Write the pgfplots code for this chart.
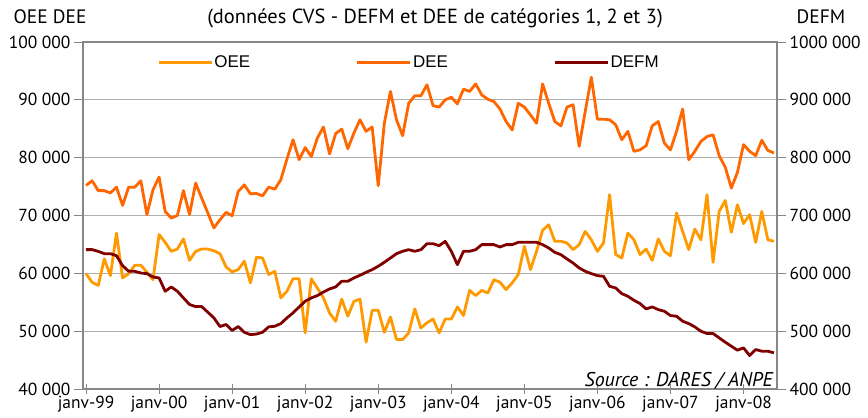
\documentclass[border=0pt]{standalone}
\usepackage{pgfplots}
\pgfplotsset{compat=1.18}
\usepackage{pgfplotstable}
\usepackage{fontspec}
\setmainfont{PT Sans}
\newfontfamily\legfont{Liberation Sans}

\definecolor{oee}{HTML}{FF9900}
\definecolor{dee}{HTML}{FF6600}
\definecolor{defm}{HTML}{800000}
\definecolor{axgray}{HTML}{868686}
\definecolor{gridgray}{HTML}{B0B0B0}

\pgfplotstableread{
i oee dee defm
0 59950 75200 641000
1 58450 76000 641000
2 57900 74300 638000
3 62500 74300 634000
4 59600 73900 634000
5 66950 74900 630500
6 59200 71750 613300
7 59950 74900 603500
8 61400 74900 603500
9 61400 76000 600600
10 60200 70150 599500
11 58900 74450 593700
12 66700 76650 592000
13 65350 70700 569000
14 63800 69550 576500
15 64200 70000 569000
16 65950 74300 557500
17 62250 70150 546100
18 63800 75600 542500
19 64200 73000 542500
20 64200 70450 532800
21 63900 67850 523000
22 63400 69250 508000
23 61100 70550 511500
24 60250 69950 501300
25 60650 74150 508000
26 62100 75300 498000
27 58350 73750 494000
28 62800 73800 495000
29 62650 73400 498200
30 59800 74900 507400
31 60350 74550 508500
32 55750 76200 513100
33 56900 79750 522900
34 59050 83100 531600
35 59050 79650 541900
36 49700 81750 551700
37 59050 80200 557500
38 57450 83400 561500
39 55750 85300 567800
40 53150 80650 573000
41 51700 84150 576500
42 55550 84950 586300
43 52600 81550 586300
44 55150 84250 592000
45 55550 86550 596600
46 48100 84550 601800
47 53600 85300 606400
48 53600 75150 612200
49 49800 85950 619100
50 52450 91450 626500
51 48550 86550 634000
52 48550 83800 638100
53 49700 89400 640900
54 53850 90700 638100
55 50550 90700 640900
56 51450 92600 651300
57 52100 89000 651300
58 49700 88750 647800
59 52100 90000 655300
60 52100 90450 638100
61 54200 89300 615000
62 52700 91850 638100
63 57050 91450 638100
64 56150 92750 640900
65 57050 90850 649600
66 56600 90100 649600
67 58900 89700 649600
68 58450 88400 645500
69 57200 86250 649600
70 58350 84800 649600
71 59800 89400 653600
72 64650 88750 653600
73 60650 87400 653600
74 63800 85950 653600
75 67450 92750 649600
76 68400 89400 643800
77 65550 86250 636300
78 65550 85500 632300
79 65250 88750 624800
80 64100 89150 617900
81 64950 81950 609300
82 67250 88000 603500
83 65800 93900 599500
84 63800 86650 596000
85 65250 86650 594900
86 73600 86550 577600
87 63250 85700 574700
88 62650 83100 564900
89 66950 84550 560300
90 65800 81100 553400
91 63250 81350 547700
92 64200 82050 538500
93 62250 85500 541900
94 65950 86250 537300
95 63800 82500 534400
96 63050 81350 527000
97 70450 84550 525800
98 67250 88400 517200
99 64100 79650 513100
100 67650 81100 507400
101 65800 82800 499900
102 73600 83650 495900
103 61900 83950 495900
104 70700 80350 488400
105 72600 78350 480900
106 67100 74750 474000
107 71850 77450 467100
108 68600 82250 471100
109 70150 81100 457900
110 65350 80350 468200
111 70700 83000 465400
112 65800 81250 465400
113 65550 80800 462500
}\data

\pgfplotsset{
  base/.style={
    scale only axis, width=694bp, height=347bp,
    at={(0,0)}, anchor=south west,
    xmin=-0.5, xmax=113.5,
    scaled y ticks=false,
    tick label style={font=\fontsize{17.5}{20}\selectfont},
    major tick length=9bp,
    tick style={axgray, line width=1bp},
  },
}

\begin{document}
\begin{tikzpicture}
\path[use as bounding box] (-83bp,-29bp) rectangle (785bp,389bp);
\begin{axis}[base,
  ymin=40000, ymax=100000,
  ytick={40000,50000,60000,70000,80000,90000,100000},
  yticklabels={40 000,50 000,60 000,70 000,80 000,90 000,100 000},
  xtick={0,12,...,108},
  xticklabels={janv-99,janv-00,janv-01,janv-02,janv-03,janv-04,janv-05,janv-06,janv-07,janv-08},
  xtick align=center, ytick align=outside,
  xtick pos=bottom, ytick pos=left,
  ymajorgrids, grid style={gridgray, line width=1bp},
  axis line style={axgray, line width=1.3bp},
  yticklabel style={xshift=0bp},
  xticklabel style={yshift=1bp},
]
\addplot[oee, line width=2.8bp, line join=round] table[x=i, y=oee] {\data};
\addplot[dee, line width=2.8bp, line join=round] table[x=i, y=dee] {\data};
\end{axis}
\begin{axis}[base,
  ymin=400000, ymax=1000000,
  ytick={400000,500000,600000,700000,800000,900000,1000000},
  yticklabels={400 000,500 000,600 000,700 000,800 000,900 000,1000 000},
  axis y line*=right, hide x axis,
  ytick align=outside,
  axis line style={axgray, line width=1.3bp},
  yticklabel style={xshift=0bp},
  legend style={at={(0.1066,0.942)}, anchor=west, draw=none, fill=none,
    inner sep=0pt, font=\legfont\fontsize{17}{20}\selectfont,
    nodes={inner sep=1.5bp},
    /tikz/every even column/.append style={column sep=104bp}},
  legend columns=3, legend cell align=left,
  legend image code/.code={\draw[#1] (0bp,0bp) -- (53bp,0bp);},
]
\addlegendimage{oee, line width=2.8bp}
\addlegendentry{OEE}
\addlegendimage{dee, line width=2.8bp}
\addlegendentry{DEE}
\addplot[defm, line width=2.8bp, line join=round] table[x=i, y=defm] {\data};
\addlegendentry{DEFM}
\end{axis}
\node[anchor=base, font=\fontsize{19.5}{22}\selectfont] at (-33bp,365bp) {OEE DEE};
\node[anchor=base, font=\fontsize{19.5}{22}\selectfont] at (738bp,365bp) {DEFM};
\node[anchor=base, font=\fontsize{20.5}{23}\selectfont] at (352bp,365bp) {(données CVS - DEFM et DEE de catégories 1, 2 et 3)};
\node[anchor=base east, inner sep=0pt, font=\fontsize{20}{22}\selectfont\itshape] at (690bp,3bp) {Source : DARES / ANPE};
\end{tikzpicture}
\end{document}
